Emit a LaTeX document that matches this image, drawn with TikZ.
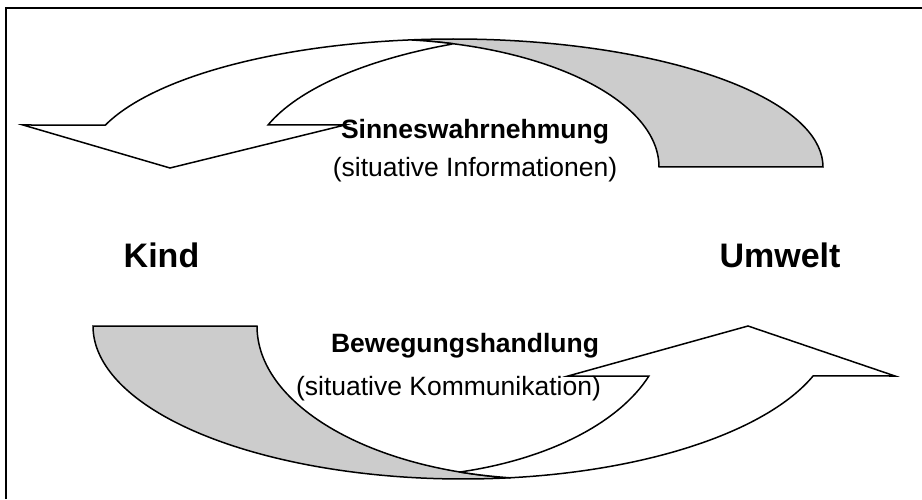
\documentclass[tikz,border=0pt]{standalone}
\usepackage{fontspec}
\setmainfont{Liberation Sans}
\definecolor{tailgray}{RGB}{204,204,204}
\begin{document}
\begin{tikzpicture}[x=1pt,y=1pt,
  shapeline/.style={draw=black,line width=1.5pt,line join=miter},
  backpart/.style={shapeline,fill=tailgray},
  frontpart/.style={shapeline,fill=white},
  plaintext/.style={inner sep=0pt,anchor=base,font=\fontsize{26.5}{30}\selectfont},
  boldtext/.style={inner sep=0pt,anchor=base,font=\bfseries\fontsize{26.5}{30}\selectfont},
  bigtext/.style={inner sep=0pt,anchor=base,font=\bfseries\fontsize{34}{38}\selectfont},
  frameline/.style={draw=black,line width=2pt}]
\useasboundingbox (0,0) rectangle (922,499);
\draw[frameline] (6,0) -- (6,491) -- (922,491);

% ---- upper curved arrow (pointing left) ----
\path[backpart] ([shift={(454,332)}]96.85:369pt and 128pt)
  arc[start angle=96.85,end angle=0,x radius=369pt,y radius=128pt]
  -- (659,332)
  arc[start angle=0,end angle=83.28,x radius=282pt,y radius=128pt]
  -- cycle;
\path[frontpart] ([shift={(454,332)}]96.85:369pt and 128pt)
  arc[start angle=96.85,end angle=160.85,x radius=369pt,y radius=128pt]
  -- (23,374) -- (170,331) -- (345,374)
  -- ([shift={(594,332)}]161.87:343pt and 135pt)
  arc[start angle=161.87,end angle=114.5,x radius=343pt,y radius=135pt]
  -- ([shift={(377,332)}]74.58:282pt and 128pt)
  arc[start angle=74.58,end angle=83.28,x radius=282pt,y radius=128pt]
  -- cycle;

% ---- lower curved arrow (pointing right) ----
\path[backpart] ([shift={(463.2,173)}]277.25:370.2pt and 153pt)
  arc[start angle=277.25,end angle=180,x radius=370.2pt,y radius=153pt]
  -- (257,173)
  arc[start angle=180,end angle=262.77,x radius=289.3pt,y radius=153pt]
  -- cycle;
\path[frontpart] ([shift={(463.2,173)}]277.25:370.2pt and 153pt)
  arc[start angle=277.25,end angle=340.93,x radius=370.2pt,y radius=153pt]
  -- (895,123) -- (748,173) -- (568,123)
  -- ([shift={(390,173)}]340.66:274.4pt and 151pt)
  arc[start angle=340.66,end angle=284.78,x radius=274.4pt,y radius=151pt]
  -- ([shift={(546.3,173)}]252.64:289.3pt and 153pt)
  arc[start angle=252.64,end angle=262.77,x radius=289.3pt,y radius=153pt]
  -- cycle;

% ---- texts ----
\node[boldtext] (sinn) at (475,360) {Sinneswahrnehmung};
\node[plaintext] (sinninfo) at (475,322) {(situative Informationen)};
\node[bigtext] (kind) at (161.5,232) {Kind};
\node[bigtext] (umwelt) at (780,232) {Umwelt};
\node[boldtext] (beweg) at (465,147) {Bewegungshandlung};
\node[plaintext] (bewegkomm) at (448.5,104) {(situative Kommunikation)};
\end{tikzpicture}
\end{document}
